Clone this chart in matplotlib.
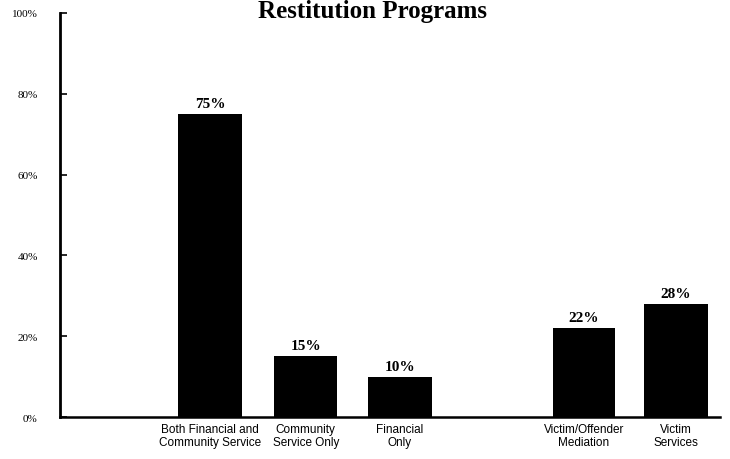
import matplotlib.pyplot as plt

categories = ["Both Financial and\nCommunity Service", "Community\nService Only",
              "Financial\nOnly", "Victim/Offender\nMediation", "Victim\nServices"]
values = [75, 15, 10, 22, 28]
value_labels = ["75%", "15%", "10%", "22%", "28%"]
yticks = [0, 20, 40, 60, 80, 100]
ytick_labels = ["0%", "20%", "40%", "60%", "80%", "100%"]

# layout (bar centres, with a gap before the last two)
xpos = [0, 1.01, 2.0, 3.94, 4.91]
widths = [0.68, 0.66, 0.68, 0.65, 0.67]

fig = plt.figure(figsize=(7.3, 4.6), dpi=100)
ax = fig.add_axes([0.082, 0.091, 0.904, 0.879])

ax.bar(xpos, values, width=widths, color="black")

for x, v, lab in zip(xpos, values, value_labels):
    ax.text(x, v + 1.0, lab, ha="center", va="bottom", fontsize=11,
            fontweight="bold", family="Liberation Serif")

ax.set_xlim(-1.58, 5.37)
ax.set_ylim(0, 100)
ax.set_xticks(xpos)
ax.set_xticklabels(categories, fontsize=8.5, family="Liberation Sans",
                   linespacing=1.15)
ax.tick_params(axis="x", length=0, pad=4)
ax.set_yticks(yticks)
ax.set_yticklabels(ytick_labels, fontsize=8, family="Liberation Serif")
ax.tick_params(axis="y", direction="in", length=5, width=1.2, pad=16)

for s in ["top", "right"]:
    ax.spines[s].set_visible(False)
ax.spines["left"].set_linewidth(2)
ax.spines["bottom"].set_linewidth(1.8)

fig.text(0.51, 1.0, "Restitution Programs", ha="center", va="top",
         fontsize=18, fontweight="bold", family="Liberation Serif")

fig.savefig("out.png", dpi=100)
